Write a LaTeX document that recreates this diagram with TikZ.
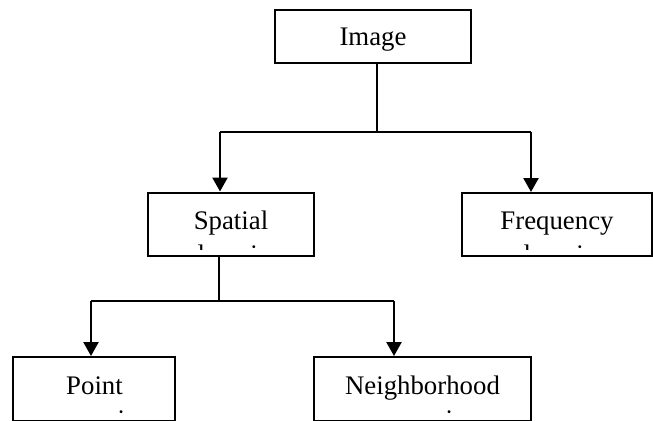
\documentclass[tikz,border=0pt]{standalone}
\usepackage{fontspec}
\setmainfont{Liberation Serif}
\usetikzlibrary{arrows.meta}
\begin{document}
\begin{tikzpicture}[x=0.5pt,y=-0.5pt,
  box/.style={draw, line width=1pt, rectangle, inner sep=0pt},
  lbl/.style={inner sep=0pt, anchor=base, font=\fontsize{13.4pt}{16pt}\selectfont},
  link/.style={line width=0.8pt},
  arr/.style={line width=1.2pt, -{Triangle[width=7.5pt,length=7pt]}}]
\clip (0,0) rectangle (653,420);
\fill[white] (0,0) rectangle (653,420);
% boxes
\node[box, minimum width=98pt, minimum height=26.5pt] (img) at (373,36.5) {};
\node[box, minimum width=83.25pt, minimum height=31.75pt] (spa) at (230.75,224.25) {};
\node[box, minimum width=95pt, minimum height=31.5pt] (fre) at (557,224.5) {};
\node[box, minimum width=81pt, minimum height=32pt] (pnt) at (94,389) {};
\node[box, minimum width=108.5pt, minimum height=32pt] (nbh) at (422.5,389) {};
% first lines
\node[lbl] (imgt) at (373,45) {Image};
\node[lbl] (spat) at (231,229.5) {Spatial};
\node[lbl] (fret) at (557,229.5) {Frequency};
\node[lbl] (pntt) at (94.5,394) {Point};
\node[lbl] (nbht) at (422.5,394) {Neighborhood};
% clipped second lines
\begin{scope}
\clip (spa.north west) rectangle ([yshift=4pt]spa.south east);
\node[lbl] (spad) at (231,263) {domain};
\end{scope}
\begin{scope}
\clip (fre.north west) rectangle ([yshift=4pt]fre.south east);
\node[lbl] (fred) at (557,263) {domain};
\end{scope}
\begin{scope}
\clip (pnt.north west) rectangle ([yshift=4.5pt]pnt.south east);
\node[lbl] (pntd) at (94.5,428.5) {processing};
\end{scope}
\begin{scope}
\clip (nbh.north west) rectangle ([yshift=4.5pt]nbh.south east);
\node[lbl] (nbhd) at (422.5,428.5) {processing};
\end{scope}
% connectors
\coordinate (j1) at (377,132);
\coordinate (h1l) at (220,132);
\coordinate (h1r) at (531,132);
\draw[link] (img.south -| j1) -- (j1);
\draw[link] (h1l) -- (h1r);
\draw[arr] (h1l) -- (spa.north -| h1l);
\draw[arr] (h1r) -- (fre.north -| h1r);
\coordinate (j2) at (219,301);
\coordinate (h2l) at (91,301);
\coordinate (h2r) at (394,301);
\draw[link] (spa.south -| j2) -- (j2);
\draw[link] (h2l) -- (h2r);
\draw[arr] (h2l) -- (pnt.north -| h2l);
\draw[arr] (h2r) -- (nbh.north -| h2r);
\end{tikzpicture}
\end{document}
